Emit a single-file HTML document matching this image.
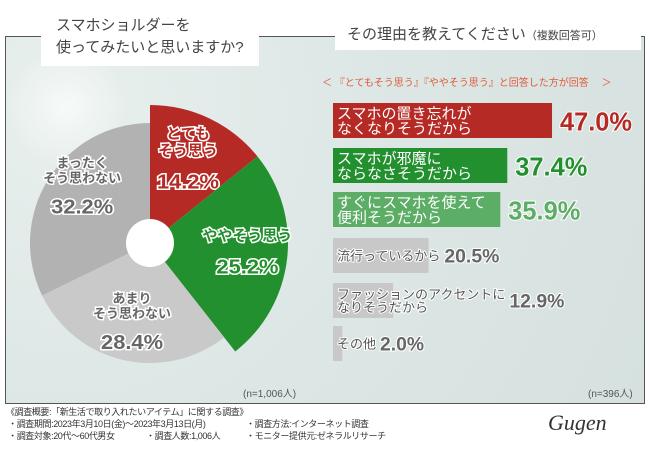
<!DOCTYPE html>
<html><head><meta charset="utf-8"><style>
body{margin:0;width:650px;height:450px;background:#fff;font-family:"Liberation Sans","Noto Sans CJK JP",sans-serif;position:relative;overflow:hidden}
.abs{position:absolute}
</style></head><body>
<div class="abs" style="left:5px;top:36px;width:638px;height:366px;border:1px solid #555;background:radial-gradient(circle at 60px 70px,#f7faf9 0,#e6eeec 60px,#dde7e5 300px,#d6e1df 650px)"></div>
<div class="abs" style="left:41px;top:10px;width:218px;height:56px;background:#fff;color:#444;font-size:15px;line-height:22px;padding:5px 0 0 15px;box-sizing:border-box;white-space:nowrap">スマホショルダーを<br>使ってみたいと思いますか?</div>
<div class="abs" style="left:335px;top:20px;width:306px;height:30px;background:#fff;color:#444;font-size:15px;line-height:30px;padding-left:12px;box-sizing:border-box;white-space:nowrap">その理由を教えてください<span style="font-size:11px">（複数回答可）</span></div>
<div class="abs" style="left:322px;top:74px;width:320px;font-size:10px;color:#e05a3a;white-space:nowrap">＜ 『とてもそう思う』『ややそう思う』と回答した方が回答 　＞</div>
<svg class="abs" style="left:0;top:0" width="650" height="450" id="svg"></svg>
<div class="abs" style="left:243px;top:385px;font-size:10px;color:#555">(n=1,006人)</div>
<div class="abs" style="left:588px;top:385px;font-size:10px;color:#555">(n=396人)</div>
<div class="abs" style="left:6px;top:406px;width:500px;font-size:9px;line-height:12px;color:#333;white-space:nowrap;letter-spacing:-0.4px">《調査概要:「新生活で取り入れたいアイテム」に関する調査》<br>&nbsp;・調査期間:2023年3月10日(金)〜2023年3月13日(月)<span style="position:absolute;left:240px">・調査方法:インターネット調査</span><br>&nbsp;・調査対象:20代〜60代男女<span style="position:absolute;left:140px">・調査人数:1,006人</span><span style="position:absolute;left:240px">・モニター提供元:ゼネラルリサーチ</span></div>
<div class="abs" style="left:548px;top:410px;font-family:'Liberation Serif',serif;font-style:italic;font-size:22px;color:#333">Gugen</div>
<script>
const pieLabels=[["とても","そう思う"],["ややそう思う"],["あまり","そう思わない"],["まったく","そう思わない"]];
const pieValues=[14.2,25.2,28.4,32.2];
const barLabels=[["スマホの置き忘れが","なくなりそうだから"],["スマホが邪魔に","ならなさそうだから"],["すぐにスマホを使えて","便利そうだから"],["流行っているから"],["ファッションのアクセントに","なりそうだから"],["その他"]];
const barValues=[47.0,37.4,35.9,20.5,12.9,2.0];
const NS="http://www.w3.org/2000/svg",svg=document.getElementById('svg');
function mk(t,a,p){const e=document.createElementNS(NS,t);for(const k in a)e.setAttribute(k,a[k]);(p||svg).appendChild(e);return e;}
const cx=150,cy=243,radii=[138,138,120,120],cols=["#b52a25","#22902e","#c9c9c9","#b2b2b2"];
const strokeCols=["#b52a25","#22902e","#fff","#fff"];
const total=pieValues.reduce((a,b)=>a+b,0);
let acc=0;
const offs=[[0,-10],[10,-5],[0,-5],[0,-20]];
pieValues.forEach((v,i)=>{
 const a0=acc/total*2*Math.PI,a1=(acc+v)/total*2*Math.PI;acc+=v;
 const r=radii[i],pt=a=>[cx+r*Math.sin(a),cy-r*Math.cos(a)];
 const [x0,y0]=pt(a0),[x1,y1]=pt(a1);
 const p=mk('path',{d:`M${cx},${cy}L${x0},${y0}A${r},${r} 0 ${a1-a0>Math.PI?1:0} 1 ${x1},${y1}Z`,fill:cols[i]});
 
 
 const am=(a0+a1)/2,lr=i<2?88:80;
 const lx=cx+lr*Math.sin(am)+offs[i][0],ly=cy-lr*Math.cos(am)+offs[i][1];
 const g=mk('g',{});
 
 
 const lines=pieLabels[i],fs=i<2?15:13;
 const sy=ly-(lines.length*fs)/2;
 lines.forEach((s,j)=>{const t=mk('text',{x:lx,y:sy+j*(fs+2),'text-anchor':'middle','font-size':fs,'font-weight':'bold',fill:i<2?strokeCols[i]:'#666',stroke:'#fff','stroke-width':3,'paint-order':'stroke'},g);t.textContent=s;});
 const t=mk('text',{x:lx,y:sy+lines.length*(fs+2)+16,'text-anchor':'middle','font-size':20,'font-weight':'bold',fill:i<2?strokeCols[i]:'#666',stroke:'#fff','stroke-width':3,'paint-order':'stroke',textLength:62,lengthAdjust:'spacingAndGlyphs'},g);t.textContent=v.toFixed(1)+'%';
});
const hole=mk('circle',{cx:cx,cy:cy,r:24,fill:'#fff'});


const bx=333,scale=4.66,tops=[103,148,192,238,283,326],bh=35;
const bcols=["#b52a25","#22902e","#5cad65","#c8c8c8","#c8c8c8","#c8c8c8"];
const vcols=["#b52a25","#22902e","#5cad65","#666","#666","#666"];
barValues.forEach((v,i)=>{
 const w=v*scale,y=tops[i];
 const r=mk('rect',{x:bx,y:y,width:w,height:bh,fill:bcols[i]});
 
 
 const lines=barLabels[i],light=i<3;
 const g=mk('g',{});
 
 
 const fs=light?15:13;
 const sy=y+bh/2-(lines.length-1)*fs/2+fs*0.38;
 let maxw=0;
 lines.forEach((s,j)=>{const t=mk('text',{x:bx+4,y:sy+j*fs,'font-size':fs,fill:light?'#fff':'#555',stroke:'#fff','stroke-width':light?0:2,'paint-order':'stroke'},g);t.textContent=s;maxw=Math.max(maxw,t.getComputedTextLength());});
 const vx=Math.max(bx+w+8,bx+maxw+8);
 const big=light?26:19;
 const str=v.toFixed(1)+'%';
 const t=mk('text',{x:vx,y:y+bh/2+(light?10:7),'font-size':big,'font-weight':'bold',fill:vcols[i],stroke:'#fff','stroke-width':2,'paint-order':'stroke',textLength:str.length*(light?14.4:11),lengthAdjust:'spacingAndGlyphs'});
 
 
 t.textContent=str;
});
</script>
</body></html>
